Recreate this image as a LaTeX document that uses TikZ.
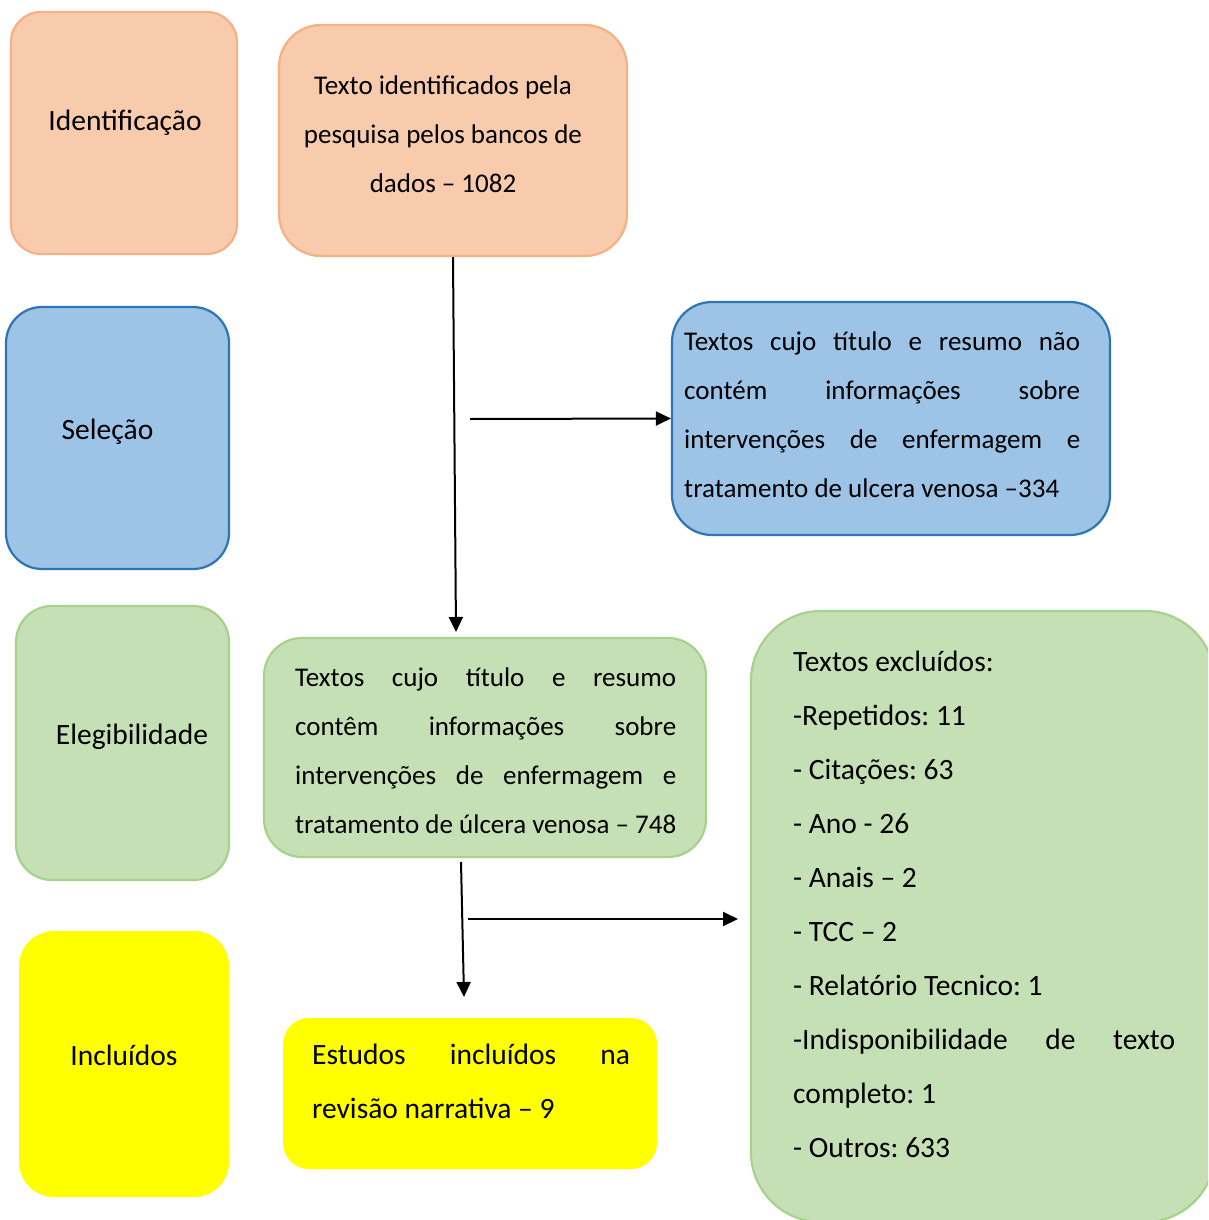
\documentclass[tikz,border=0pt]{standalone}
\usepackage{fontspec}
\setmainfont{Carlito}
\usetikzlibrary{arrows.meta}
\definecolor{orfill}{HTML}{F8CBAD}
\definecolor{ordraw}{HTML}{F4B183}
\definecolor{blfill}{HTML}{9DC3E6}
\definecolor{bldraw}{HTML}{2E75B6}
\definecolor{grfill}{HTML}{C5E0B4}
\definecolor{grdraw}{HTML}{A9D18E}
\definecolor{yefill}{HTML}{FFFF00}
\newcommand\fl{\rule{0pt}{24pt}}
\frenchspacing
\begin{document}
\begin{tikzpicture}[x=1pt,y=-1pt,
  box/.style={rectangle, rounded corners=#1, line width=2.2pt, inner sep=0pt},
  orbox/.style={box=#1, fill=orfill, draw=ordraw},
  blbox/.style={box=#1, fill=blfill, draw=bldraw},
  grbox/.style={box=#1, fill=grfill, draw=grdraw},
  yebox/.style={box=#1, fill=yefill},
  lbl/.style={inner sep=0pt, font=\fontsize{29.5}{49}\selectfont},
  para/.style={inner sep=0pt, anchor=north west, align=justify, font=\fontsize{27}{49}\selectfont},
  bigpara/.style={para, font=\fontsize{29.5}{54}\selectfont},
  arr/.style={line width=2pt, -{Triangle[length=15pt,width=14pt]}}]
\clip (0,0) rectangle (1208,1220);
\fill[white] (0,0) rectangle (1208,1220);
% boxes
\node[orbox=30pt, minimum width=226pt, minimum height=242pt] (b1) at (124,133) {};
\node[orbox=42pt, minimum width=348pt, minimum height=231pt] (b2) at (453,140.5) {};
\node[blbox=36pt, minimum width=223pt, minimum height=262pt] (b3) at (117.5,438) {};
\node[blbox=40pt, minimum width=438pt, minimum height=233pt] (b4) at (891,418.5) {};
\node[grbox=36pt, minimum width=213pt, minimum height=274pt] (b5) at (122.5,743) {};
\node[grbox=38pt, minimum width=442pt, minimum height=219pt] (b6) at (485,747.5) {};
\node[yebox=35pt, minimum width=210pt, minimum height=266pt] (b7) at (124,1064) {};
\node[yebox=26pt, minimum width=374pt, minimum height=151pt] (b8) at (470,1093.5) {};
\node[grbox=70pt, minimum width=464pt, minimum height=611pt] (b9) at (983,916.5) {};
% texts
\node[lbl, anchor=base] (t1) at (125,131) {Identificação};
\node[para, anchor=north, align=center] (t2) at (443,70) {\fl Texto identificados pela\\pesquisa pelos bancos de\\dados – 1082};
\node[lbl, anchor=base] (t3) at (107.5,439) {Seleção};
\node[para, text width=396pt] (t4) at (684,326) {\fl Textos cujo título e resumo não\linebreak contém informações sobre\linebreak intervenções de enfermagem e\linebreak tratamento de ulcera venosa –334};
\node[lbl, anchor=base] (t5) at (132,744) {Elegibilidade};
\node[para, text width=381pt] (t6) at (295,662) {\fl Textos cujo título e resumo\linebreak contêm informações sobre\linebreak intervenções de enfermagem e\linebreak tratamento de úlcera venosa – 748};
\node[lbl, anchor=base] (t7) at (124,1065) {Incluídos};
\node[bigpara, text width=318pt] (t8) at (312,1040) {\fl Estudos incluídos na\linebreak revisão narrativa – 9};
\node[bigpara, text width=382pt] (t9) at (793,647) {\fl Textos excluídos:\\-Repetidos: 11\\- Citações: 63\\- Ano - 26\\- Anais – 2\\- TCC – 2\\- Relatório Tecnico: 1\\-Indisponibilidade de texto\linebreak completo: 1\\- Outros: 633};
% connectors
\coordinate (c1) at (456,632);
\coordinate (c2) at (470,419);
\coordinate (c3s) at (461,862);
\coordinate (c3) at (464,997);
\coordinate (c4s) at (468,919);
\coordinate (c4) at (738,919);
\draw[arr] (b2.south) -- (c1);
\draw[arr] (c2) -- (b4.west);
\draw[arr] (c3s) -- (c3);
\draw[arr] (c4s) -- (c4);
\end{tikzpicture}
\end{document}
